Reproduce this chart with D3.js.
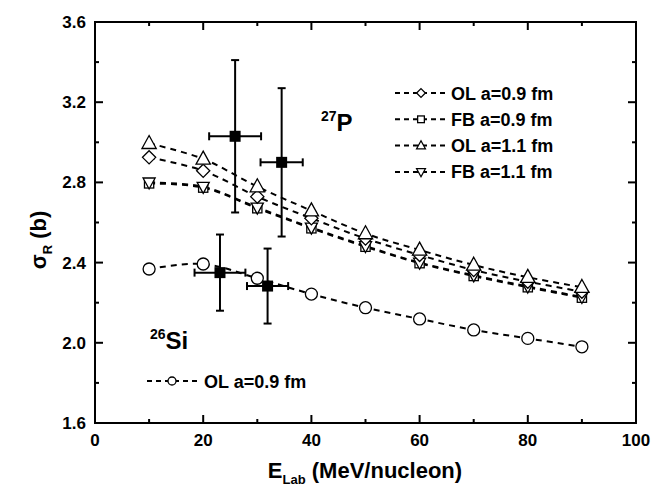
<!DOCTYPE html>
<html><head><meta charset="utf-8">
<script src="https://cdn.jsdelivr.net/npm/d3@7"></script>
<style>body{margin:0;background:#fff}svg{display:block}text{font-family:"Liberation Sans",Arial,sans-serif}</style>
</head><body><svg id="c" width="657" height="496"></svg>
<script>
const energies = [10,20,30,40,50,60,70,80,90];
const ol09 = [2.925,2.858,2.729,2.621,2.520,2.438,2.363,2.305,2.255];
const fb09 = [2.795,2.774,2.671,2.571,2.479,2.397,2.333,2.277,2.225];
const ol11 = [2.995,2.917,2.779,2.659,2.545,2.463,2.388,2.327,2.277];
const fb11 = [2.800,2.778,2.675,2.575,2.483,2.400,2.337,2.281,2.229];
const siOl09 = [2.368,2.393,2.322,2.243,2.175,2.119,2.064,2.022,1.980];
const expP = {x:[25.9,34.5], y:[3.03,2.90], dx:[4.8,3.9], dy:[0.38,0.37]};
const expSi = {x:[23.1,31.9], y:[2.35,2.283], dx:[4.7,3.8], dy:[0.19,0.187]};
const xTicks = [0,20,40,60,80,100];
const yTicks = [1.6,2.0,2.4,2.8,3.2,3.6];
const legendLabels = ["OL a=0.9 fm","FB a=0.9 fm","OL a=1.1 fm","FB a=1.1 fm"];
const siLegendLabel = "OL a=0.9 fm";

const svg = d3.select("#c");
const x = d3.scaleLinear().domain([0,100]).range([95,636]);
const y = d3.scaleLinear().domain([1.6,3.6]).range([423,22]);
const L = x.range()[0], R = x.range()[1], T = y.range()[1], B = y.range()[0];

// axes (ticks inward)
const axW = 2;
const g = svg.append("g");
const minorX = d3.range(0,101,10), minorY = d3.range(16,37,2).map(d=>d/10);
function tickLine(x1,y1,x2,y2){g.append("line").attr("x1",x1).attr("y1",y1).attr("x2",x2).attr("y2",y2).attr("stroke","#000").attr("stroke-width",axW);}
minorX.forEach(v=>{const len = (v%20===0)?8:4; tickLine(x(v),B,x(v),B-len); tickLine(x(v),T,x(v),T+len);});
minorY.forEach(v=>{const major = yTicks.some(t=>Math.abs(t-v)<1e-6); const len = major?8:4; tickLine(L,y(v),L+len,y(v)); tickLine(R,y(v),R-len,y(v));});
g.append("rect").attr("x",L).attr("y",T).attr("width",R-L).attr("height",B-T).attr("fill","none").attr("stroke","#000").attr("stroke-width",axW);

svg.selectAll(".xl").data(xTicks).enter().append("text").attr("x",d=>x(d)).attr("y",B+23)
  .attr("text-anchor","middle").attr("font-size",17).attr("font-weight","bold").text(d=>d);
svg.selectAll(".yl").data(yTicks).enter().append("text").attr("x",L-9).attr("y",d=>y(d)+6)
  .attr("text-anchor","end").attr("font-size",17).attr("font-weight","bold").text(d=>d.toFixed(1));

// axis titles
const xt = svg.append("text").attr("x",365).attr("y",478).attr("text-anchor","middle").attr("font-size",22).attr("font-weight","bold");
xt.append("tspan").text("E");
xt.append("tspan").attr("font-size",13).attr("dy",6).text("Lab");
xt.append("tspan").attr("dy",-6).text(" (MeV/nucleon)");
const yt = svg.append("text").attr("transform","translate(46,240) rotate(-90)").attr("text-anchor","middle").attr("font-size",22).attr("font-weight","bold");
yt.append("tspan").text("σ");
yt.append("tspan").attr("font-size",13).attr("dy",6).text("R");
yt.append("tspan").attr("dy",-6).text(" (b)");

// symbols
function marker(sel,type,cx,cy,s){
  let el;
  if(type==="circle") el = sel.append("circle").attr("cx",cx).attr("cy",cy).attr("r",s*0.5);
  else if(type==="square") el = sel.append("rect").attr("x",cx-s*0.42).attr("y",cy-s*0.42).attr("width",s*0.84).attr("height",s*0.84);
  else if(type==="diamond") el = sel.append("path").attr("d",`M${cx},${cy-s*0.55}L${cx+s*0.55},${cy}L${cx},${cy+s*0.55}L${cx-s*0.55},${cy}Z`);
  else if(type==="up") el = sel.append("path").attr("d",`M${cx},${cy-s*0.6}L${cx+s*0.55},${cy+s*0.4}L${cx-s*0.55},${cy+s*0.4}Z`);
  else if(type==="down") el = sel.append("path").attr("d",`M${cx},${cy+s*0.6}L${cx+s*0.55},${cy-s*0.4}L${cx-s*0.55},${cy-s*0.4}Z`);
  el.attr("fill","#fff").attr("stroke","#000").attr("stroke-width",1.3);
  return el;
}

const series = [
  {vals:ol09, type:"diamond", size:12},
  {vals:fb09, type:"square", size:11},
  {vals:ol11, type:"up", size:13},
  {vals:fb11, type:"down", size:11},
  {vals:siOl09, type:"circle", size:12}
];
const line = d3.line().x(d=>x(d[0])).y(d=>y(d[1])).curve(d3.curveCatmullRom);
series.forEach(s=>{
  const pts = energies.map((e,i)=>[e,s.vals[i]]);
  svg.append("path").attr("d",line(pts)).attr("fill","none").attr("stroke","#000").attr("stroke-width",2).attr("stroke-dasharray","6,5");
});
const drawOrder = [1,3,0,2,4];
drawOrder.forEach(k=>{
  const s = series[k];
  const mg = svg.append("g");
  energies.forEach((e,i)=>marker(mg,s.type,x(e),y(s.vals[i]),s.size));
});

// experimental points
function expDraw(d){
  d.x.forEach((xv,i)=>{
    const cx = x(xv), cy = y(d.y[i]);
    const x0 = x(xv-d.dx[i]), x1 = x(xv+d.dx[i]);
    const y0 = y(d.y[i]-d.dy[i]), y1 = y(d.y[i]+d.dy[i]);
    const eg = svg.append("g").attr("stroke","#000").attr("stroke-width",2);
    eg.append("line").attr("x1",x0).attr("x2",x1).attr("y1",cy).attr("y2",cy);
    eg.append("line").attr("x1",cx).attr("x2",cx).attr("y1",y0).attr("y2",y1);
    eg.append("line").attr("x1",x0).attr("x2",x0).attr("y1",cy-4).attr("y2",cy+4);
    eg.append("line").attr("x1",x1).attr("x2",x1).attr("y1",cy-4).attr("y2",cy+4);
    eg.append("line").attr("x1",cx-4).attr("x2",cx+4).attr("y1",y0).attr("y2",y0);
    eg.append("line").attr("x1",cx-4).attr("x2",cx+4).attr("y1",y1).attr("y2",y1);
    svg.append("rect").attr("x",cx-5.5).attr("y",cy-5.5).attr("width",11).attr("height",11).attr("fill","#000");
  });
}
expDraw(expP); expDraw(expSi);

// nucleus labels
const pl = svg.append("text").attr("x",321).attr("y",131).attr("font-size",24).attr("font-weight","bold");
pl.append("tspan").attr("font-size",14).attr("dy",-10).text("27");
pl.append("tspan").attr("dy",10).text("P");
const sl = svg.append("text").attr("x",150).attr("y",349).attr("font-size",24).attr("font-weight","bold");
sl.append("tspan").attr("font-size",14).attr("dy",-10).text("26");
sl.append("tspan").attr("dy",10).text("Si");

// legends
const legTypes = ["diamond","square","up","down"];
legendLabels.forEach((lab,i)=>{
  const ly = 93 + i*26.3;
  svg.append("line").attr("x1",395).attr("x2",447).attr("y1",ly).attr("y2",ly).attr("stroke","#000").attr("stroke-width",2).attr("stroke-dasharray","5,4");
  marker(svg,legTypes[i],421,ly,8);
  svg.append("text").attr("x",451).attr("y",ly+6.5).attr("font-size",18).attr("font-weight","bold").text(lab);
});
{
  const ly = 381;
  svg.append("line").attr("x1",147).attr("x2",199).attr("y1",ly).attr("y2",ly).attr("stroke","#000").attr("stroke-width",2).attr("stroke-dasharray","5,4");
  marker(svg,"circle",172,ly,8);
  svg.append("text").attr("x",204).attr("y",ly+6.5).attr("font-size",18).attr("font-weight","bold").text(siLegendLabel);
}
</script></body></html>
